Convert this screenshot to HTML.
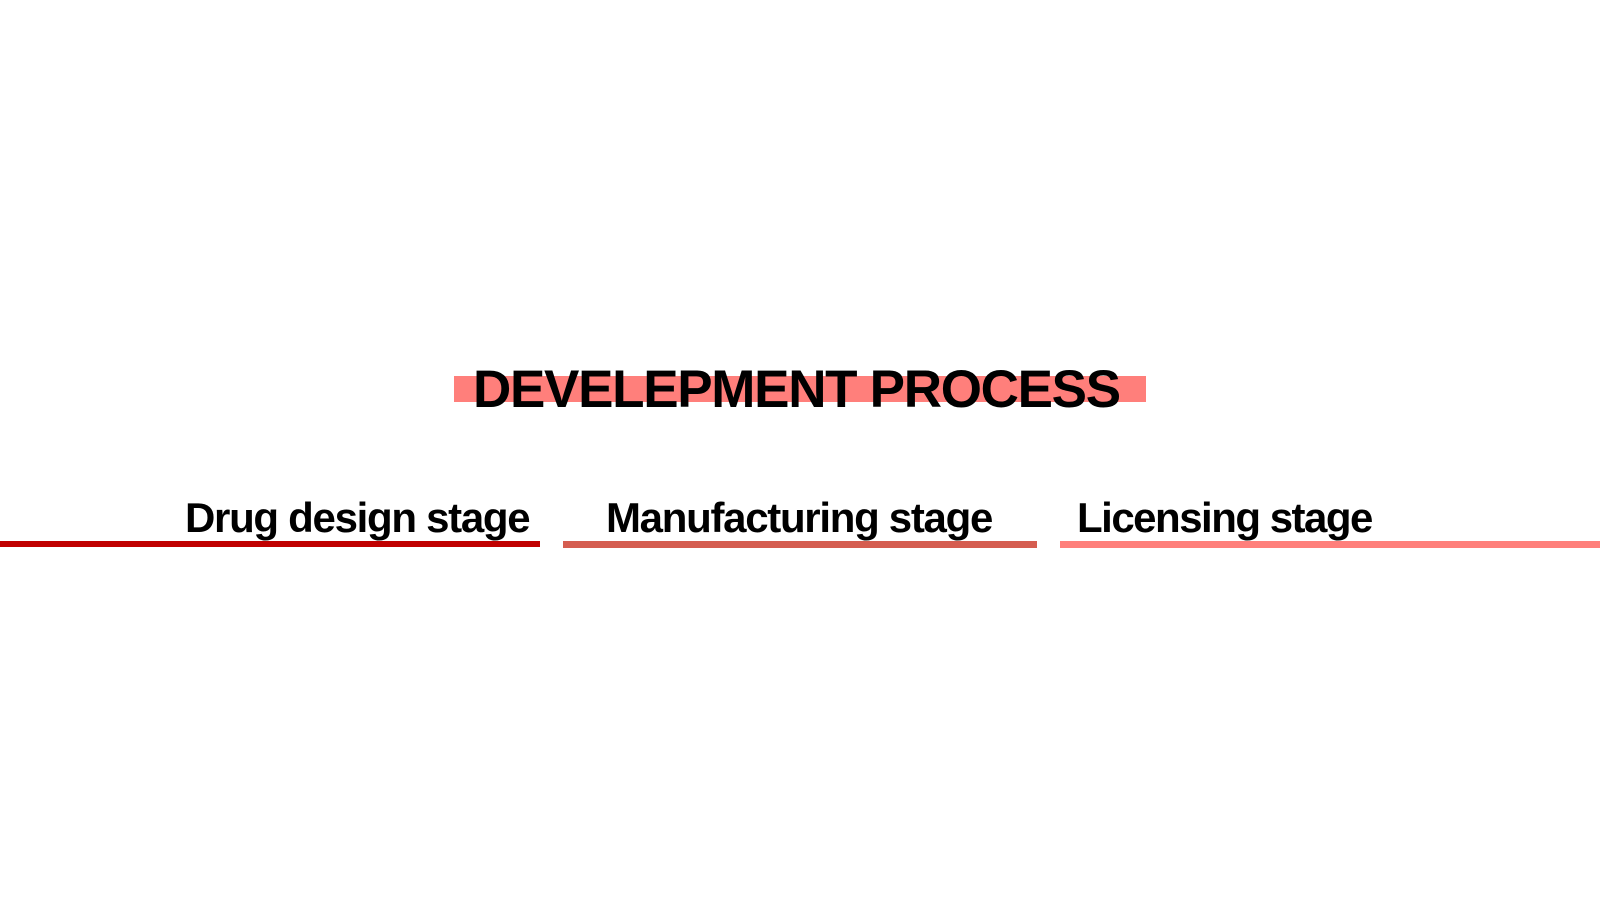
<!DOCTYPE html>
<html><head><meta charset="utf-8"><style>
html,body{margin:0;padding:0;background:#fff;}
body{width:1600px;height:900px;position:relative;overflow:hidden;font-family:"Liberation Sans",Arial,sans-serif;font-weight:bold;color:#000;}
.abs{position:absolute;}
.t{position:absolute;white-space:nowrap;line-height:1;letter-spacing:-1.3px;}
</style></head><body>
<div class="abs" style="left:454px;top:376px;width:692px;height:26px;background:#ff7f7b;"></div>
<div class="t" style="left:473px;top:363px;font-size:53px;">DEVELEPMENT PROCESS</div>
<div class="t" style="left:185px;top:497px;font-size:42px;">Drug design stage</div>
<div class="t" style="left:606px;top:497px;font-size:42px;">Manufacturing stage</div>
<div class="t" style="left:1077px;top:497px;font-size:42px;letter-spacing:-1.5px;">Licensing stage</div>
<div class="abs" style="left:0;top:541px;width:540px;height:6px;background:#c00000;"></div>
<div class="abs" style="left:563px;top:541px;width:474px;height:7px;background:#d55d50;"></div>
<div class="abs" style="left:1060px;top:541px;width:540px;height:7px;background:#ff7f7b;"></div>
</body></html>
